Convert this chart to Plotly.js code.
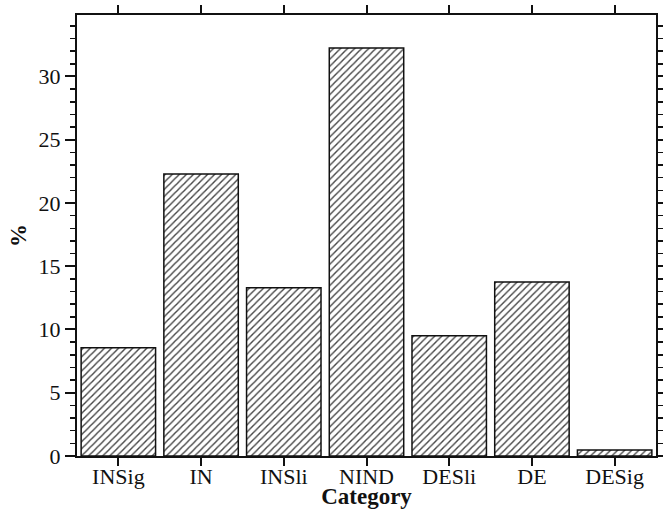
<!DOCTYPE html>
<html>
<head>
<meta charset="utf-8">
<script src="https://cdn.plot.ly/plotly-3.0.1.min.js"></script>
<style>html,body{margin:0;padding:0;background:#fff;}</style>
</head>
<body>
<div id="chart" style="width:663px;height:509px;"></div>
<script>
var categories = ["INSig", "IN", "INSli", "NIND", "DESli", "DE", "DESig"];
var percentValues = [8.55, 22.3, 13.3, 32.25, 9.5, 13.75, 0.47];
var yTickValues = [0, 5, 10, 15, 20, 25, 30];
var xTitle = "Category";
var yTitle = "%";

var serif = "'Liberation Serif', 'Times New Roman', Times, serif";

var trace = {
  type: "bar",
  x: categories,
  y: percentValues,
  width: 0.9,
  marker: {
    color: "#ffffff",
    line: {color: "#111111", width: 1.5},
    pattern: {shape: "/", size: 5, solidity: 0.28, fgcolor: "#444444", bgcolor: "#ffffff"}
  },
  hoverinfo: "x+y"
};

var layout = {
  width: 663,
  height: 509,
  margin: {l: 77, r: 7, t: 15, b: 53},
  paper_bgcolor: "#ffffff",
  plot_bgcolor: "#ffffff",
  showlegend: false,
  font: {family: serif, color: "#111111", size: 21},
  xaxis: {
    type: "category",
    range: [-0.5, 6.5],
    showline: true, linecolor: "#111111", linewidth: 2,
    mirror: "allticks",
    ticks: "outside", ticklen: 8, tickwidth: 2, tickcolor: "#111111",
    ticklabelstandoff: -8,
    showgrid: false, zeroline: false,
    tickfont: {family: serif, size: 22, color: "#111111"},
    title: {text: "<b>" + xTitle + "</b>", font: {family: serif, size: 23, color: "#111111"}, standoff: 4}
  },
  yaxis: {
    range: [0, 34.86],
    tickvals: yTickValues,
    showline: true, linecolor: "#111111", linewidth: 2,
    mirror: "allticks",
    ticks: "outside", ticklen: 10, tickwidth: 2, tickcolor: "#111111",
    minor: {dtick: 1, ticks: "outside", ticklen: 5, tickwidth: 1.5, tickcolor: "#111111", showgrid: false},
    showgrid: false, zeroline: false,
    tickfont: {family: serif, size: 22, color: "#111111"},
    title: {text: "<b>" + yTitle + "</b>", font: {family: serif, size: 23, color: "#111111"}, standoff: 6}
  }
};

Plotly.newPlot("chart", [trace], layout, {displayModeBar: false, staticPlot: true});
</script>
</body>
</html>
